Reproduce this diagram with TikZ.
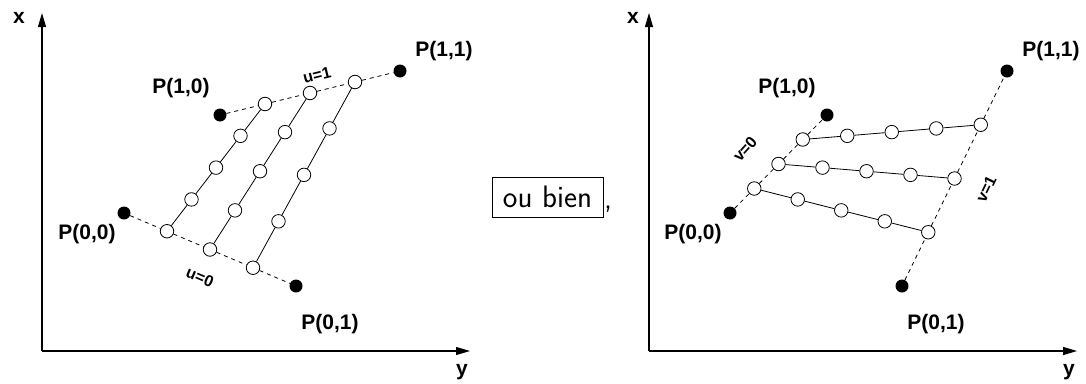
\documentclass[tikz,border=0pt]{standalone}
\usepackage{fontspec}
\setmainfont{Liberation Sans}
\usetikzlibrary{calc,arrows.meta}
\tikzset{
  dot/.style={circle, fill=black, inner sep=0pt, minimum size=13pt},
  ring/.style={circle, draw, fill=white, inner sep=0pt, minimum size=13.5pt, line width=0.8pt},
  lbl/.style={inner sep=0pt, font=\bfseries\fontsize{21}{21}\selectfont},
  par/.style={inner sep=0pt, font=\bfseries\fontsize{16}{16}\selectfont},
  axis/.style={line width=1.1pt, -{Triangle[length=14pt,width=8pt]}},
  grid/.style={line width=0.8pt},
  guide/.style={line width=0.8pt, dash pattern=on 4pt off 4pt},
}
\begin{document}
\begin{tikzpicture}[x=1pt,y=-1pt]
\useasboundingbox (0,0) rectangle (1086,383);
% ---------------- left panel ----------------
\coordinate (LO) at (42,351);
\coordinate (LX) at (42,13);
\coordinate (LY) at (470,351);
\draw[axis] (LO) -- (LX);
\draw[axis] (LO) -- (LY);
\node[lbl] (lx) at (19,18) {x};
\node[lbl] (ly) at (462,372) {y};
\node[dot] (L00) at (124,213) {};
\node[dot] (L10) at (220,115) {};
\node[dot] (L11) at (400,71) {};
\node[dot] (L01) at (296,286) {};
\node[lbl] (tL11) at (444,51) {P(1,1)};
\node[lbl] (tL10) at (181,88) {P(1,0)};
\node[lbl] (tL00) at (87,234) {P(0,0)};
\node[lbl] (tL01) at (330,324) {P(0,1)};
\node[par, rotate=14] (tu1) at (317,75) {u=1};
\node[par, rotate=-23] (tu0) at (200,277) {u=0};
\foreach \i in {1,2,3}{
  \pgfmathsetmacro\t{\i/4}
  \node[ring] (La\i) at ($(L00)!\t!(L01)$) {};
  \node[ring] (Lb\i) at ($(L10)!\t!(L11)$) {};
}
\foreach \i in {1,2,3}{
  \foreach \j in {1,2,3}{
    \pgfmathsetmacro\s{\j/4}
    \node[ring] (Lc\i\j) at ($(La\i)!\s!(Lb\i)$) {};
  }
  \draw[grid] (La\i) -- (Lc\i1) -- (Lc\i2) -- (Lc\i3) -- (Lb\i);
}
\draw[guide] (L00) -- (La1) -- (La2) -- (La3) -- (L01);
\draw[guide] (L10) -- (Lb1) -- (Lb2) -- (Lb3) -- (L11);
% ---------------- middle ----------------
\node[draw, line width=0.8pt, inner sep=0pt, minimum width=111pt, minimum height=40pt,
      font=\sffamily\fontsize{31}{31}\selectfont] (ob) at (547.5,197) {ou bien};
\node[anchor=base west, inner sep=0pt, font=\sffamily\fontsize{31}{31}\selectfont] (comma) at (604,208) {,};
% ---------------- right panel ----------------
\coordinate (RO) at (649,351);
\coordinate (RX) at (649,13);
\coordinate (RY) at (1077,351);
\draw[axis] (RO) -- (RX);
\draw[axis] (RO) -- (RY);
\node[lbl] (rx) at (633,18) {x};
\node[lbl] (ry) at (1069,372) {y};
\node[dot] (R00) at (730,213) {};
\node[dot] (R10) at (827,115) {};
\node[dot] (R11) at (1007,71) {};
\node[dot] (R01) at (902,286) {};
\node[lbl] (tR11) at (1051,51) {P(1,1)};
\node[lbl] (tR10) at (787,88) {P(1,0)};
\node[lbl] (tR00) at (693,234) {P(0,0)};
\node[lbl] (tR01) at (936,324) {P(0,1)};
\node[par, rotate=48] (tv0) at (745,149) {v=0};
\node[par, rotate=64] (tv1) at (986,189) {v=1};
\foreach \i in {1,2,3}{
  \pgfmathsetmacro\t{\i/4}
  \node[ring] (Ra\i) at ($(R00)!\t!(R10)$) {};
  \node[ring] (Rb\i) at ($(R01)!\t!(R11)$) {};
}
\foreach \i in {1,2,3}{
  \foreach \j in {1,2,3}{
    \pgfmathsetmacro\s{\j/4}
    \node[ring] (Rc\i\j) at ($(Ra\i)!\s!(Rb\i)$) {};
  }
  \draw[grid] (Ra\i) -- (Rc\i1) -- (Rc\i2) -- (Rc\i3) -- (Rb\i);
}
\draw[guide] (R00) -- (Ra1) -- (Ra2) -- (Ra3) -- (R10);
\draw[guide] (R01) -- (Rb1) -- (Rb2) -- (Rb3) -- (R11);
\end{tikzpicture}
\end{document}
